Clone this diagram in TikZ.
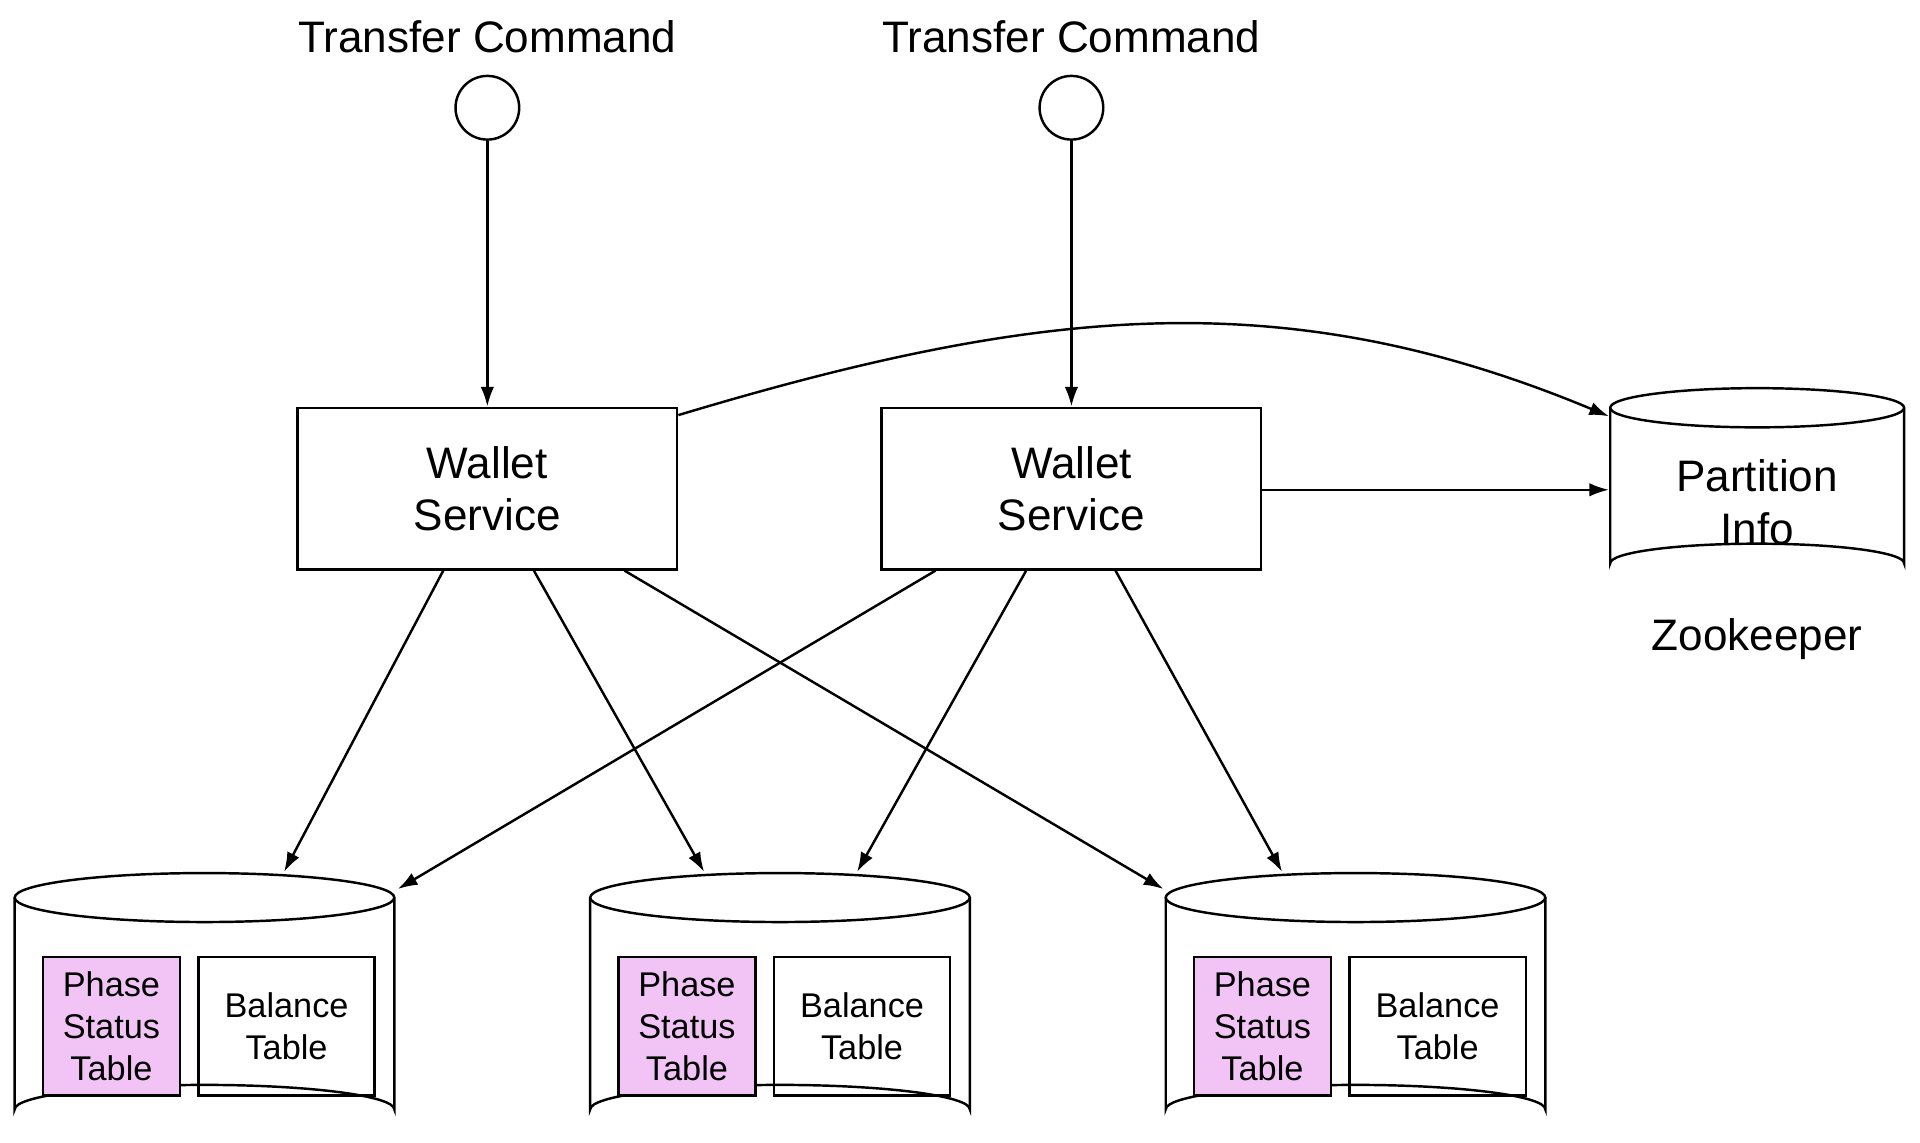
\documentclass[tikz,border=0pt]{standalone}
\usepackage{fontspec}
\setmainfont{Liberation Sans}
\usetikzlibrary{arrows.meta}
\definecolor{pinkt}{HTML}{F2C4F6}
\begin{document}
\begin{tikzpicture}[x=1pt,y=-1pt,
  lw/.style={line width=2pt},
  arr/.style={lw,-{Latex[length=16pt,width=11pt]}},
  box/.style={draw,lw,minimum width=310pt,minimum height=132pt,align=center,font=\fontsize{36}{43}\selectfont},
  tab/.style={draw,lw,minimum height=113pt,align=center,font=\fontsize{28}{34}\selectfont,inner sep=0pt},
  lbl/.style={font=\fontsize{36}{43}\selectfont}]
\useasboundingbox (0,0) rectangle (1568,933);
\newcommand{\cyl}[5]{% left, top center y, width, ry, bottom y
  \draw[lw,fill=white] (#1,#2) -- (#1,#5) arc[start angle=180,end angle=360,x radius=#3/2,y radius=#4] -- (#1+#3,#2);
  \draw[lw,fill=white] (#1+#3/2,#2) ellipse[x radius=#3/2,y radius=#4];}
% top labels and circles
\node[lbl] (t1) at (398,30) {Transfer Command};
\node[lbl] (t2) at (875,30) {Transfer Command};
\node[draw,lw,circle,minimum size=52pt] (c1) at (398,88) {};
\node[draw,lw,circle,minimum size=52pt] (c2) at (875,88) {};
% wallet services
\node[box] (w1) at (398,399) {Wallet\\Service};
\node[box] (w2) at (875,399) {Wallet\\Service};
% zookeeper
\cyl{1315}{333}{240}{16}{460}
\node[lbl,align=center] (pi) at (1435,410) {Partition\\Info};
\node[coordinate] (piL) at (1314,400) {};
\node[coordinate] (piT) at (1314,340) {};
\node[lbl] (zk) at (1435,522) {Zookeeper};
% databases
\foreach \i/\x in {1/12,2/482,3/952}{
  \cyl{\x}{733}{310}{20}{906}
  \node[tab,fill=pinkt,minimum width=112pt] (p\i) at (\x+79,838) {Phase\\Status\\Table};
  \node[tab,minimum width=144pt] (b\i) at (\x+222,838) {Balance\\Table};
}
\node[coordinate] (d1a) at (232,712) {};
\node[coordinate] (d1b) at (325,726) {};
\node[coordinate] (d2a) at (575,712) {};
\node[coordinate] (d2b) at (700,712) {};
\node[coordinate] (d3a) at (950,726) {};
\node[coordinate] (d3b) at (1047,712) {};
% arrows
\draw[arr] (c1) -- (w1);
\draw[arr] (c2) -- (w2);
\draw[arr] (w1.south)+(-36,0) -- (d1a);
\draw[arr] ([xshift=38pt]w1.south) -- (d2a);
\draw[arr] ([xshift=112pt]w1.south) -- (d3a);
\draw[arr] ([xshift=-111pt]w2.south) -- (d1b);
\draw[arr] ([xshift=-37pt]w2.south) -- (d2b);
\draw[arr] ([xshift=36pt]w2.south) -- (d3b);
\draw[arr] (w2.east |- piL) -- (piL);
\draw[arr] ([yshift=-7pt]w1.north east) .. controls (850,250) and (1050,230) .. (piT);
\end{tikzpicture}
\end{document}
